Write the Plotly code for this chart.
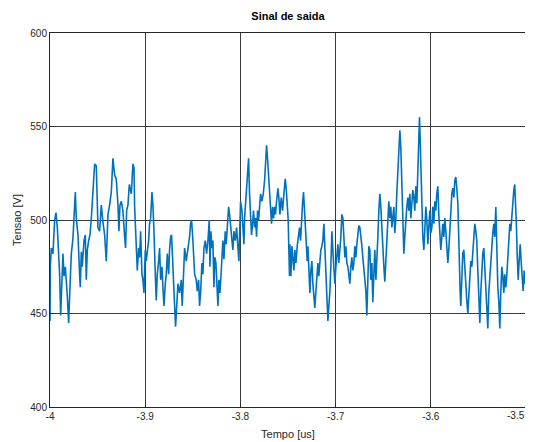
import plotly.graph_objects as go

# ---- data (time in us, voltage in V) ----
t_seg1 = [-4.0000, -3.9997, -3.9986, -3.9969, -3.9951, -3.9937, -3.9923, -3.9909, -3.9899, -3.9888,
          -3.9874, -3.9864, -3.9853, -3.9839, -3.9818, -3.9804, -3.9794, -3.9776, -3.9759, -3.9748,
          -3.9734, -3.9724, -3.9706, -3.9689, -3.9682, -3.9671, -3.9661, -3.9643, -3.9629, -3.9619,
          -3.9608, -3.9594, -3.9580, -3.9566, -3.9549, -3.9531, -3.9514, -3.9503, -3.9496, -3.9479,
          -3.9468, -3.9461, -3.9444, -3.9426, -3.9409, -3.9391, -3.9374, -3.9356, -3.9339, -3.9321,
          -3.9304, -3.9286, -3.9276, -3.9265, -3.9251, -3.9234, -3.9216, -3.9206, -3.9195, -3.9181,
          -3.9167]
v_seg1 = [446, 475, 485, 482, 500, 504, 496, 480, 471, 449,
          464, 482, 470, 475, 459, 445, 459, 482, 490, 505,
          515, 501, 492, 471, 464, 483, 475, 489, 492, 468,
          484, 489, 492, 501, 516, 530, 529, 510, 496, 494,
          501, 508, 499, 492, 478, 503, 508, 515, 533, 524,
          522, 508, 494, 508, 510, 505, 491, 485, 505, 508,
          519]

t_seg2 = [-3.9146, -3.9129, -3.9118, -3.9111, -3.9104, -3.9094, -3.9083, -3.9069, -3.9059, -3.9048,
          -3.9034, -3.9024, -3.9013, -3.9006, -3.8999, -3.8989, -3.8978, -3.8964, -3.8954, -3.8943,
          -3.8929, -3.8919, -3.8908, -3.8901, -3.8894, -3.8884, -3.8873, -3.8859, -3.8849, -3.8838,
          -3.8824, -3.8814, -3.8803, -3.8789, -3.8779, -3.8768, -3.8754, -3.8744, -3.8733, -3.8723,
          -3.8712, -3.8702, -3.8691, -3.8681, -3.8670, -3.8656, -3.8639, -3.8621, -3.8611, -3.8597,
          -3.8586, -3.8569, -3.8551, -3.8534, -3.8523, -3.8513, -3.8499, -3.8488, -3.8481, -3.8464,
          -3.8453, -3.8439, -3.8429, -3.8418, -3.8404, -3.8394, -3.8383, -3.8369, -3.8355, -3.8341,
          -3.8327]
v_seg2 = [514, 530, 528, 507, 496, 489, 473, 485, 480, 494,
          471, 468, 461, 473, 484, 478, 482, 489, 498, 501,
          515, 508, 494, 478, 471, 457, 471, 478, 485, 468,
          475, 464, 454, 466, 471, 482, 471, 484, 491, 492,
          475, 461, 454, 443, 455, 466, 461, 468, 454, 478,
          485, 478, 484, 491, 498, 500, 489, 478, 471, 468,
          462, 468, 454, 461, 477, 471, 485, 489, 482, 489,
          500]

t_seg3 = [-3.8320, -3.8310, -3.8299, -3.8289, -3.8278, -3.8268, -3.8257, -3.8247, -3.8236, -3.8226,
          -3.8215, -3.8201, -3.8194, -3.8184, -3.8173, -3.8159, -3.8149, -3.8138, -3.8124, -3.8114,
          -3.8103, -3.8089, -3.8079, -3.8068, -3.8054, -3.8040, -3.8026, -3.8016, -3.8005, -3.7998,
          -3.7984, -3.7974, -3.7963, -3.7956, -3.7946, -3.7935, -3.7925, -3.7914, -3.7904, -3.7893,
          -3.7883, -3.7872, -3.7862, -3.7851, -3.7841, -3.7830, -3.7820, -3.7809, -3.7799, -3.7788,
          -3.7774, -3.7760, -3.7746, -3.7736, -3.7725, -3.7715, -3.7704, -3.7690, -3.7683, -3.7673,
          -3.7662, -3.7652, -3.7641, -3.7631, -3.7620, -3.7606, -3.7596, -3.7585, -3.7571, -3.7557,
          -3.7543, -3.7529, -3.7519, -3.7508, -3.7498, -3.7491, -3.7484]
v_seg3 = [475, 494, 485, 489, 464, 480, 477, 462, 454, 468,
          461, 473, 485, 489, 479, 494, 487, 494, 507, 503,
          496, 489, 484, 494, 489, 496, 485, 478, 498, 510,
          505, 494, 487, 501, 509, 519, 528, 533, 514, 501,
          492, 498, 505, 496, 501, 491, 505, 500, 510, 514,
          510, 514, 521, 530, 540, 533, 523, 512, 503, 498,
          507, 501, 507, 503, 510, 517, 512, 503, 512, 505,
          514, 522, 517, 510, 500, 484, 470]

t_seg4 = [-3.7480, -3.7470, -3.7459, -3.7449, -3.7438, -3.7428, -3.7417, -3.7403, -3.7389, -3.7379,
          -3.7368, -3.7358, -3.7347, -3.7337, -3.7326, -3.7316, -3.7305, -3.7298, -3.7291, -3.7281,
          -3.7270, -3.7260, -3.7249, -3.7239, -3.7228, -3.7218, -3.7207, -3.7197, -3.7186, -3.7176,
          -3.7165, -3.7155, -3.7144, -3.7134, -3.7123, -3.7113, -3.7102, -3.7092, -3.7081, -3.7071,
          -3.7060, -3.7050, -3.7039, -3.7029, -3.7018, -3.7008, -3.6997, -3.6987, -3.6976, -3.6966,
          -3.6955, -3.6945, -3.6934, -3.6924, -3.6913, -3.6903, -3.6892, -3.6882, -3.6871, -3.6861,
          -3.6850, -3.6840, -3.6829, -3.6819, -3.6808, -3.6798, -3.6787, -3.6777, -3.6766, -3.6756,
          -3.6745, -3.6735, -3.6724, -3.6714, -3.6703, -3.6693, -3.6682, -3.6672, -3.6661, -3.6651]
v_seg4 = [487, 470, 486, 478, 473, 484, 477, 486, 491, 496,
          489, 501, 509, 515, 505, 498, 489, 478, 486, 471,
          461, 473, 478, 466, 459, 453, 462, 473, 477, 470,
          478, 484, 486, 489, 498, 484, 470, 459, 446, 454,
          462, 475, 494, 484, 471, 466, 475, 482, 487, 477,
          484, 491, 503, 501, 491, 480, 486, 477, 475, 470,
          466, 475, 480, 473, 477, 486, 480, 487, 493, 497,
          496, 489, 486, 480, 475, 470, 462, 449, 480, 486]

t_seg5 = [-3.6640, -3.6630, -3.6619, -3.6609, -3.6598, -3.6588, -3.6577, -3.6567, -3.6556, -3.6546,
          -3.6535, -3.6525, -3.6514, -3.6504, -3.6493, -3.6483, -3.6472, -3.6462, -3.6451, -3.6441,
          -3.6430, -3.6420, -3.6409, -3.6399, -3.6388, -3.6378, -3.6367, -3.6357, -3.6346, -3.6336,
          -3.6325, -3.6315, -3.6304, -3.6294, -3.6283, -3.6273, -3.6262, -3.6252, -3.6241, -3.6231,
          -3.6220, -3.6210, -3.6199, -3.6189, -3.6178, -3.6168, -3.6157, -3.6147, -3.6136, -3.6129,
          -3.6119, -3.6112, -3.6101, -3.6094, -3.6084, -3.6073, -3.6063, -3.6052, -3.6042, -3.6031,
          -3.6021, -3.6010, -3.6000, -3.5989, -3.5979, -3.5968, -3.5958, -3.5947, -3.5937, -3.5926,
          -3.5916, -3.5905, -3.5895, -3.5884, -3.5874, -3.5863, -3.5853, -3.5842, -3.5832, -3.5821,
          -3.5811]
v_seg5 = [484, 468, 477, 456, 471, 484, 468, 484, 491, 505,
          514, 507, 494, 482, 475, 467, 480, 491, 505, 510,
          501, 507, 496, 501, 507, 493, 501, 514, 526, 540,
          548, 539, 516, 500, 482, 491, 501, 507, 512, 505,
          514, 501, 509, 516, 512, 505, 518, 509, 526, 540,
          555, 544, 523, 505, 491, 484, 494, 507, 500, 487,
          496, 505, 493, 496, 507, 498, 510, 505, 514, 518,
          503, 494, 484, 491, 498, 491, 501, 494, 485, 477,
          484]

t_seg6 = [-3.5800, -3.5790, -3.5779, -3.5769, -3.5758, -3.5748, -3.5737, -3.5727, -3.5716, -3.5709,
          -3.5702, -3.5692, -3.5685, -3.5674, -3.5664, -3.5653, -3.5643, -3.5632, -3.5622, -3.5611,
          -3.5601, -3.5590, -3.5580, -3.5569, -3.5559, -3.5548, -3.5538, -3.5527, -3.5517, -3.5506,
          -3.5496, -3.5485, -3.5475, -3.5464, -3.5454, -3.5443, -3.5433, -3.5422, -3.5412, -3.5401,
          -3.5391, -3.5380, -3.5370, -3.5359, -3.5349, -3.5338, -3.5328, -3.5317, -3.5307, -3.5296,
          -3.5286, -3.5275, -3.5265, -3.5254, -3.5244, -3.5233, -3.5223, -3.5212, -3.5202, -3.5191,
          -3.5181, -3.5170, -3.5160, -3.5149, -3.5139, -3.5128, -3.5118, -3.5107, -3.5100, -3.5093,
          -3.5082, -3.5072, -3.5061, -3.5051, -3.5040, -3.5030, -3.5019, -3.5009, -3.5000]
v_seg6 = [496, 505, 514, 517, 512, 521, 523, 517, 509, 496,
          475, 462, 454, 470, 482, 484, 473, 464, 457, 450,
          461, 473, 478, 475, 484, 494, 498, 494, 489, 473,
          455, 445, 461, 475, 482, 485, 473, 464, 454, 442,
          461, 471, 480, 485, 493, 498, 491, 507, 482, 464,
          457, 442, 461, 475, 470, 461, 471, 464, 470, 478,
          489, 498, 494, 503, 509, 516, 519, 509, 496, 482,
          468, 478, 487, 478, 471, 462, 473, 466, 471]

time_us = t_seg1 + t_seg2 + t_seg3 + t_seg4 + t_seg5 + t_seg6
tensao = v_seg1 + v_seg2 + v_seg3 + v_seg4 + v_seg5 + v_seg6

x_ticks = [-4, -3.9, -3.8, -3.7, -3.6, -3.5]
x_tick_labels = ["-4", "-3.9", "-3.8", "-3.7", "-3.6", "-3.5"]
y_ticks = [400, 450, 500, 550, 600]
y_tick_labels = ["400", "450", "500", "550", "600"]

FONT = "Liberation Sans, Arial, sans-serif"
AX = "#262626"

fig = go.Figure()
fig.add_trace(go.Scatter(
    x=time_us, y=tensao, mode="lines",
    line=dict(color="#0072BD", width=1.6),
    showlegend=False, hoverinfo="skip",
))

axis_common = dict(
    showline=True, mirror=True, linecolor=AX, linewidth=1,
    showgrid=True, gridcolor="#3a3a3a", gridwidth=1,
    zeroline=False, ticks="inside", ticklen=4, tickcolor=AX,
    tickfont=dict(family=FONT, size=10, color=AX),
    automargin=False,
)

# last x tick label sits at the page edge: draw it as a right-aligned label so it stays whole
shown_x_labels = x_tick_labels[:-1] + [""]

fig.update_xaxes(
    range=[-4, -3.5], tickvals=x_ticks, ticktext=shown_x_labels,
    title=dict(text="Tempo [us]", font=dict(family=FONT, size=11, color=AX), standoff=9),
    **axis_common,
)
fig.update_yaxes(
    range=[400, 600], tickvals=y_ticks, ticktext=y_tick_labels,
    title=dict(text="Tensao [V]", font=dict(family=FONT, size=11, color=AX), standoff=6),
    **axis_common,
)

fig.add_annotation(
    x=x_ticks[-1], xref="x", y=0, yref="paper",
    text=x_tick_labels[-1], showarrow=False,
    xanchor="right", yanchor="top", xshift=1, yshift=-1,
    font=dict(family=FONT, size=10, color=AX),
)

# the page body adds an 8 px offset; margins compensate for it
fig.update_layout(
    width=533, height=442,
    margin=dict(l=42, r=15, t=25, b=43),
    paper_bgcolor="white", plot_bgcolor="white",
    title=dict(text="<b>Sinal de saida</b>", x=0.5, xanchor="center",
               xref="paper", y=1, yref="paper", yanchor="bottom", pad=dict(b=13),
               automargin=False,
               font=dict(family=FONT, size=11, color="black")),
)

fig.write_html("out.html")
